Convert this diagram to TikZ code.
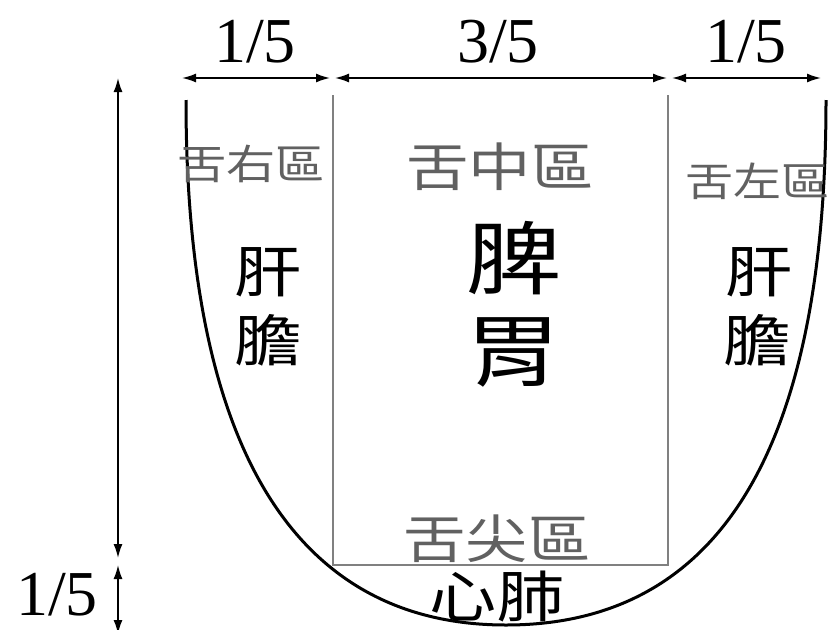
\documentclass[tikz,border=0pt]{standalone}
\usepackage{fontspec}
\setmainfont{Liberation Serif}
\newfontfamily\cjk[FakeStretch=1.2]{Noto Sans CJK TC}
\usetikzlibrary{arrows.meta}

\tikzset{
  zone/.style={text=black!62, inner sep=0pt, font=\cjk\fontsize{#1}{#1}\selectfont},
  organ/.style={inner sep=0pt, font=\cjk\fontsize{#1}{#1}\selectfont},
  frac/.style={inner sep=0pt, anchor=base, font=\fontsize{64}{64}\selectfont},
  dim/.style={{Latex[length=14pt,width=9pt]}-{Latex[length=14pt,width=9pt]}, line width=1.6pt}
}

\begin{document}
\begin{tikzpicture}[x=1pt,y=-1pt]
        \useasboundingbox (0,0) rectangle (832,629);
        \draw[line width=3pt] (186,100) coordinate (tl) .. controls (186,480) and (315,625) .. (506,625) coordinate (tp)
              .. controls (700,625) and (826,480) .. (826,100) coordinate (tr);
        \draw[color=black!50, line width=2.5pt] (333,95) coordinate (ml) -- (333,565) coordinate (bl) -- (668,565) coordinate (br) -- (668,95) coordinate (mr);
        \draw[dim] (182,78) coordinate (w0) -- (330,78) coordinate (w1);
        \draw[dim] (335,78) coordinate (w2) -- (667,78) coordinate (w3);
        \draw[dim] (672,78) coordinate (w4) -- (821,78) coordinate (w5);
        \draw[dim] (118,78) coordinate (h0) -- (118,558) coordinate (h1);
        \draw[dim] (118,565) coordinate (h2) -- (118,634) coordinate (h3);
        \node[frac] (fl) at (255,62) {1/5};
        \node[frac] (fm) at (498,62) {3/5};
        \node[frac] (fr) at (746,62) {1/5};
        \node[frac] (fb) at (57,615) {1/5};
        \node[zone=41] (zr) at (251,164) {舌右區};
        \node[zone=52] (zm) at (500,167) {舌中區};
        \node[zone=40] (zl) at (757,181) {舌左區};
        \node[zone=52] (zt) at (497,539) {舌尖區};
        \node[organ=56] (gr) at (268,272) {肝};
        \node[organ=56] (dr) at (268,340) {膽};
        \node[organ=56] (gl) at (759,272) {肝};
        \node[organ=56] (dl) at (757,340) {膽};
        \node[organ=80] (sp) at (514,258) {脾};
        \node[organ=80] (st) at (513,352) {胃};
        \node[organ=56] (hl) at (497,597) {心肺};
      \end{tikzpicture}
\end{document}
